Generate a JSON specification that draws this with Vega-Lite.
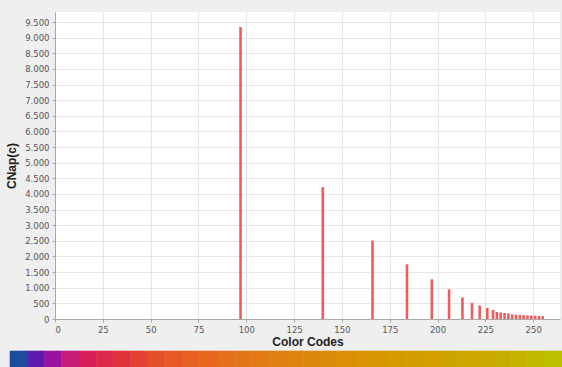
{
  "$schema": "https://vega.github.io/schema/vega-lite/v6.json",
  "width": 505,
  "height": 307,
  "autosize": "none",
  "padding": {"left": 55, "top": 12, "right": 2, "bottom": 48},
  "background": "#efefef",
  "config": {
    "view": {"fill": "#ffffff", "stroke": null},
    "locale": {"number": {"decimal": ",", "thousands": ".", "grouping": [3], "currency": ["", ""]}},
    "axis": {
      "labelFont": "DejaVu Sans",
      "labelFontSize": 8.5,
      "labelColor": "#555555",
      "titleFont": "Liberation Sans",
      "titleFontSize": 12,
      "titleFontWeight": "bold",
      "titleColor": "#222222",
      "domainColor": "#a8a8a8",
      "tickColor": "#a8a8a8",
      "tickSize": 3,
      "gridColor": "#e6e6e6",
      "gridWidth": 1
    }
  },
  "datasets": {
    "counts": [
      {"code": 97, "cnap": 9340},
      {"code": 140, "cnap": 4220},
      {"code": 166, "cnap": 2510},
      {"code": 184, "cnap": 1750},
      {"code": 197, "cnap": 1270},
      {"code": 206, "cnap": 950},
      {"code": 213, "cnap": 690},
      {"code": 218, "cnap": 512},
      {"code": 222, "cnap": 432},
      {"code": 226, "cnap": 352},
      {"code": 229, "cnap": 288},
      {"code": 231, "cnap": 224},
      {"code": 233, "cnap": 208},
      {"code": 235, "cnap": 192},
      {"code": 237, "cnap": 176},
      {"code": 239, "cnap": 150},
      {"code": 241, "cnap": 140},
      {"code": 243, "cnap": 130},
      {"code": 245, "cnap": 122},
      {"code": 247, "cnap": 115},
      {"code": 249, "cnap": 110},
      {"code": 251, "cnap": 105},
      {"code": 253, "cnap": 100},
      {"code": 255, "cnap": 95}
    ],
    "palette": [
      {"c": 0}, {"c": 8}, {"c": 16}, {"c": 24}, {"c": 32}, {"c": 40}, {"c": 48}, {"c": 56},
      {"c": 64}, {"c": 72}, {"c": 80}, {"c": 88}, {"c": 96}, {"c": 104}, {"c": 112}, {"c": 120},
      {"c": 128}, {"c": 136}, {"c": 144}, {"c": 152}, {"c": 160}, {"c": 168}, {"c": 176}, {"c": 184},
      {"c": 192}, {"c": 200}, {"c": 208}, {"c": 216}, {"c": 224}, {"c": 232}, {"c": 240}, {"c": 248}
    ]
  },
  "layer": [
    {
      "data": {"name": "counts"},
      "mark": {"type": "bar", "size": 2.6, "color": "#f05c5c", "clip": true},
      "encoding": {
        "x": {
          "field": "code",
          "type": "quantitative",
          "title": "Color Codes",
          "scale": {"domain": [0, 264], "nice": false, "zero": true, "padding": 0},
          "axis": {"values": [0, 25, 50, 75, 100, 125, 150, 175, 200, 225, 250], "labelPadding": 3, "titlePadding": 3}
        },
        "y": {
          "field": "cnap",
          "type": "quantitative",
          "title": "CNap(c)",
          "scale": {"domain": [0, 9820], "nice": false},
          "axis": {
            "values": [0, 500, 1000, 1500, 2000, 2500, 3000, 3500, 4000, 4500, 5000, 5500, 6000, 6500, 7000, 7500, 8000, 8500, 9000, 9500],
            "format": ",d",
            "labelPadding": 3,
            "titlePadding": 6
          }
        }
      }
    },
    {
      "data": {"name": "palette"},
      "mark": {"type": "rect", "strokeWidth": 0.6},
      "encoding": {
        "x": {
          "field": "c",
          "type": "ordinal",
          "scale": {"range": [-45, 507], "paddingInner": 0, "paddingOuter": 0},
          "axis": null
        },
        "y": {"datum": 0, "type": "quantitative", "scale": {"domain": [0, 1], "range": [355, 339]}, "axis": null},
        "y2": {"datum": 1},
        "color": {
          "field": "c",
          "type": "quantitative",
          "legend": null,
          "scale": {
            "domain": [0, 8, 16, 24, 32, 48, 64, 96, 128, 176, 224, 248],
            "range": ["#1c4c9c", "#5c1ab0", "#9a12a0", "#c81a78", "#d82058", "#e0343c", "#e65028", "#e6701c", "#de8410", "#d69a00", "#c8ac00", "#bcc000"]
          }
        },
        "stroke": {
          "field": "c",
          "type": "quantitative",
          "legend": null,
          "scale": {
            "domain": [0, 8, 16, 24, 32, 48, 64, 96, 128, 176, 224, 248],
            "range": ["#1c4c9c", "#5c1ab0", "#9a12a0", "#c81a78", "#d82058", "#e0343c", "#e65028", "#e6701c", "#de8410", "#d69a00", "#c8ac00", "#bcc000"]
          }
        }
      }
    }
  ],
  "resolve": {"scale": {"x": "independent", "y": "independent", "color": "independent", "stroke": "independent"}}
}
